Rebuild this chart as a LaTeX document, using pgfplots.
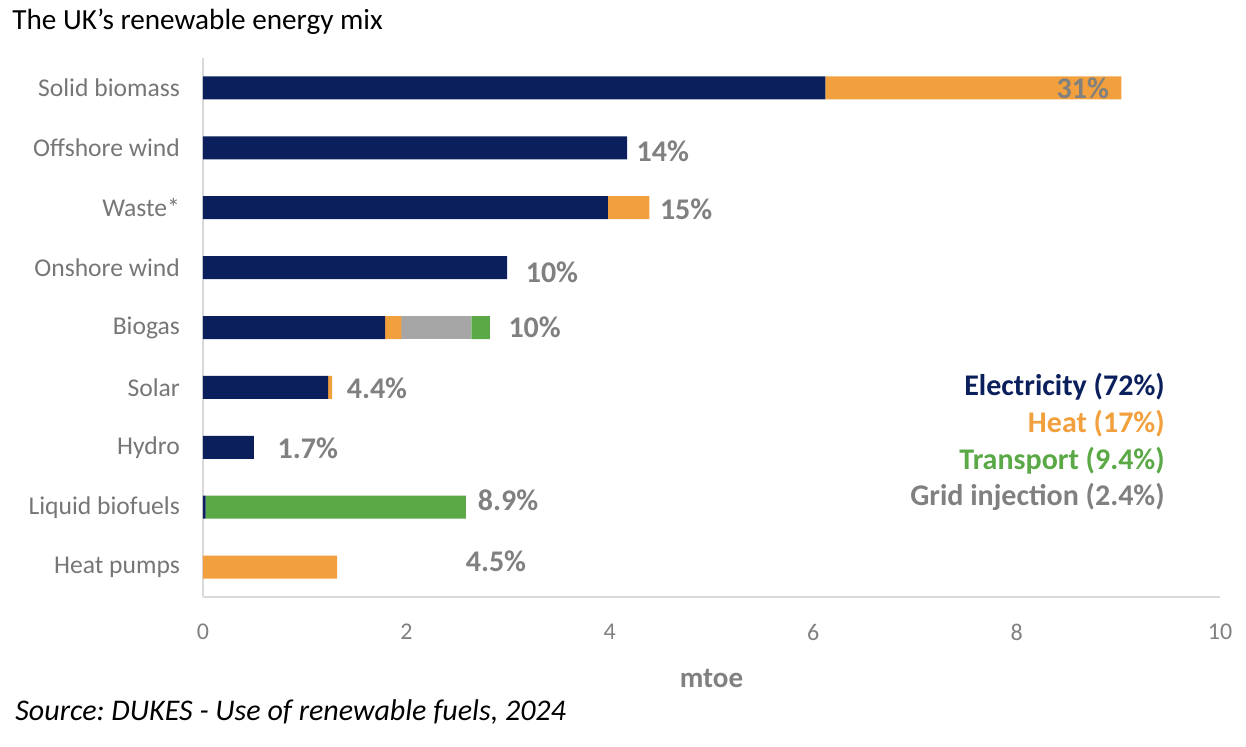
\documentclass[border=0pt]{standalone}
\usepackage{fontspec}
\setmainfont{Carlito}
\usepackage{pgfplots}
\pgfplotsset{compat=1.18}
\frenchspacing
\definecolor{navy}{HTML}{0A1F5C}
\definecolor{orng}{HTML}{F2A03D}
\definecolor{grn}{HTML}{5AA846}
\definecolor{gbar}{HTML}{A6A6A6}
\definecolor{lab}{HTML}{808080}
\definecolor{cat}{HTML}{767676}
\definecolor{axl}{HTML}{D9D9D9}
\tikzset{pct/.style={font=\fontsize{15}{18}\selectfont\bfseries, text=lab, anchor=west, inner sep=0pt},
         leg/.style={font=\fontsize{15}{18}\selectfont\bfseries, anchor=east, inner sep=0pt}}
\begin{document}
\begin{tikzpicture}
\useasboundingbox (-101.5pt,-74.5pt) rectangle (521.5pt,298.5pt);
\begin{axis}[
  scale only axis, width=508.5pt, height=269.5pt,
  xbar stacked, bar width=11.5pt,
  xmin=0, xmax=10, ymin=-0.5, ymax=8.5,
  axis x line*=bottom, axis y line*=left,
  axis line style={axl, line width=1pt},
  xtick={0,2,4,6,8,10}, ytick={0,...,8},
  yticklabels={Heat pumps,Liquid biofuels,Hydro,Solar,Biogas,Onshore wind,Waste*,Offshore wind,Solid biomass},
  major tick length=0pt,
  /pgf/number format/assume math mode=true,
  xticklabel style={font=\fontsize{12}{14}\selectfont, text=lab, yshift=-10pt},
  yticklabel style={font=\fontsize{12.8}{15}\selectfont, text=cat, xshift=-8pt},
  xlabel={\textbf{mtoe}},
  xlabel style={font=\fontsize{14.5}{16}\selectfont, text=lab, at={(axis description cs:0.5,0)}, anchor=center, yshift=-40.5pt},
  clip=false,
]
\addplot[draw=none, fill=navy] coordinates {(6.12,8) (4.17,7) (3.98,6) (2.99,5) (1.79,4) (1.23,3) (0.50,2) (0.025,1) (0,0)};
\addplot[draw=none, fill=orng] coordinates {(2.91,8) (0,7) (0.41,6) (0,5) (0.16,4) (0.04,3) (0,2) (0,1) (1.32,0)};
\addplot[draw=none, fill=gbar] coordinates {(0,8) (0,7) (0,6) (0,5) (0.69,4) (0,3) (0,2) (0,1) (0,0)};
\addplot[draw=none, fill=grn] coordinates {(0,8) (0,7) (0,6) (0,5) (0.18,4) (0,3) (0,2) (2.56,1) (0,0)};
\coordinate (p31) at (axis cs:8.39,8.0);
\node[pct] at (axis cs:4.26,6.95) {14\%};
\node[pct] at (axis cs:4.49,5.97) {15\%};
\node[pct] at (axis cs:3.17,4.92) {10\%};
\node[pct] at (axis cs:3.00,4.0) {10\%};
\node[pct] at (axis cs:1.41,2.98) {4.4\%};
\node[pct] at (axis cs:0.73,1.99) {1.7\%};
\node[pct] at (axis cs:2.70,1.12) {8.9\%};
\node[pct] at (axis cs:2.58,0.10) {4.5\%};
\node[leg, text=navy] at (axis cs:9.46,3.01) {Electricity (72\%)};
\node[leg, text=orng] at (axis cs:9.46,2.39) {Heat (17\%)};
\node[leg, text=grn] at (axis cs:9.46,1.77) {Transport (9.4\%)};
\node[leg, text=lab] at (axis cs:9.46,1.17) {Grid injection (2.4\%)};
\end{axis}
\node[pct] at (p31) {31\%};
\node[anchor=west, inner sep=0pt, font=\fontsize{14.6}{17}\selectfont] at (-95.5pt,287.5pt) {The UK’s renewable energy mix};
\node[anchor=west, inner sep=0pt, font=\fontsize{15}{17}\selectfont\itshape] at (-94pt,-57.5pt) {Source: DUKES - Use of renewable fuels, 2024};
\end{tikzpicture}
\end{document}
